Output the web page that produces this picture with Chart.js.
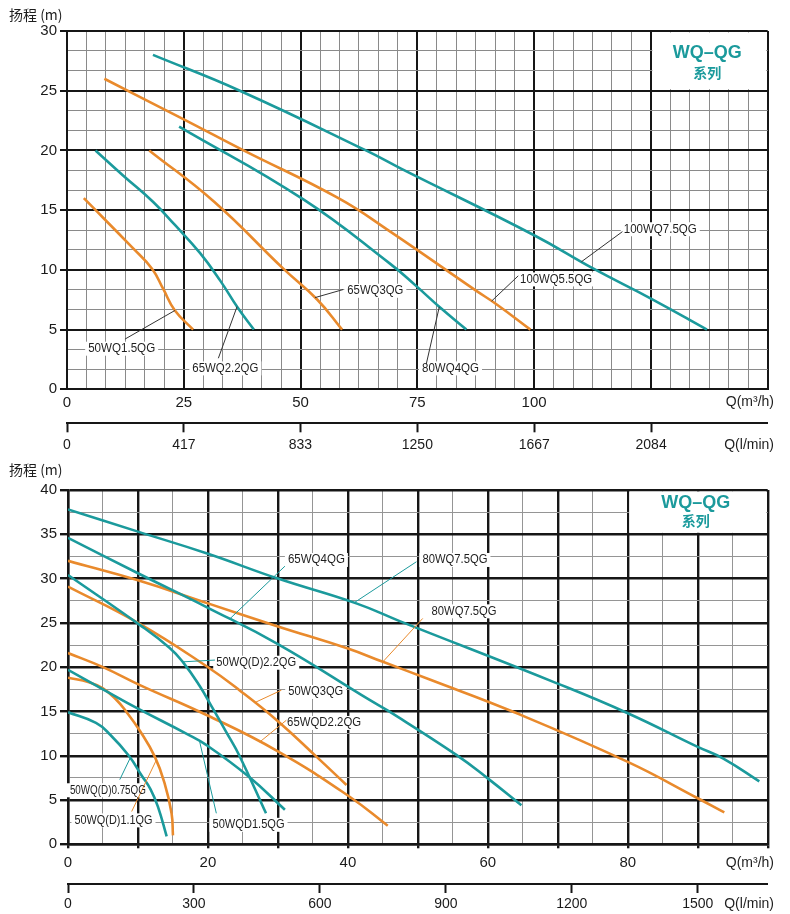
<!DOCTYPE html>
<html>
<head>
<meta charset="utf-8">
<title>WQ-QG 系列 性能曲线</title>
<script src="https://cdn.jsdelivr.net/npm/chart.js@4.4.1/dist/chart.umd.min.js"></script>
<style>
  html, body { margin: 0; padding: 0; background: #fff; }
  canvas { display: block; }
</style>
</head>
<body>
<canvas id="chartTop" width="790" height="457"></canvas>
<canvas id="chartBottom" width="790" height="457"></canvas>
<script>
const TEAL = '#1b9a9c';
const ORANGE = '#e98a2c';
const FONT = '"Liberation Sans", Arial, "Noto Sans CJK SC", sans-serif';
const CJK = '"Noto Sans CJK SC", "Liberation Sans", sans-serif';

/* upper chart: Q (m3/h) against H (m) */
const topNames = ['50WQ1.5QG', '65WQ2.2QG', '65WQ3QG', '80WQ4QG', '100WQ5.5QG', '100WQ7.5QG'];
const topColors = [ORANGE, TEAL, ORANGE, TEAL, ORANGE, TEAL];
const q50WQ15 = [[3.6, 16], [13.9, 11.9], [18.2, 10.1], [20.6, 8.4], [23.1, 6.6], [27, 5]];
const q65WQ22 = [[6.1, 20], [12, 17.9], [18.4, 15.7], [23, 13.8], [28.5, 11.4], [32.8, 9.1], [36.6, 6.8], [40, 5]];
const q65WQ3 = [[17.6, 20], [31.5, 15.7], [46.3, 10.1], [53.6, 7.5], [58.9, 5]];
const q80WQ4 = [[24, 22], [50.6, 15.9], [69.2, 10.5], [74.6, 8.7], [80, 6.8], [85.5, 5]];
const q100WQ55 = [[8, 26], [25, 22.6], [37.8, 20], [58.1, 16], [69.2, 13.2], [87.4, 8.3], [92, 7.1], [99.2, 5]];
const q100WQ75 = [[18.4, 28], [37, 25], [64, 20], [71.4, 18.5], [100, 12.9], [112.7, 10.1], [125, 7.6], [137, 5]];
const topQTicks = [0, 25, 50, 75, 100, 125];
const topHTicks = [0, 5, 10, 15, 20, 25, 30];
const topLminTicks = [0, 417, 833, 1250, 1667, 2084];

/* lower chart */
const botNames = ['80WQ7.5QG', '65WQ4QG', '80WQ7.5QG', '50WQ(D)2.2QG', '50WQ3QG', '65WQD2.2QG', '50WQD1.5QG', '50WQ(D)1.1QG', '50WQ(D)0.75QG'];
const botColors = [TEAL, TEAL, ORANGE, TEAL, ORANGE, ORANGE, TEAL, ORANGE, TEAL];
const b80WQ75t = [[0, 37.8], [10, 35.3], [20, 32.8], [30, 30], [41.2, 27.2], [47.4, 25.2], [69.8, 18.2], [80, 14.8], [90, 11], [93.6, 9.7], [98.8, 7.1]];
const b65WQ4 = [[0, 34.6], [10, 30.6], [20, 26.7], [30, 22.6], [43.1, 16.3], [45.9, 15], [55.5, 10.1], [59.9, 7.5], [64.8, 4.4]];
const b80WQ75o = [[0, 32], [10, 29.8], [20, 27.2], [30, 24.6], [40, 22.1], [45, 20.6], [51.7, 18.6], [63.8, 14.9], [80, 9.3], [90, 5.2], [93.8, 3.6]];
const b50WQD22 = [[0, 30.4], [10.2, 24.8], [14.5, 22.2], [16.4, 20.6], [18.8, 17.9], [20.5, 15.6], [22.6, 12.7], [24.5, 10], [28.3, 3.5]];
const b50WQ3 = [[0, 29.1], [10, 25], [19.8, 20.1], [24.5, 17.4], [30, 13.9], [35.5, 9.9], [39.8, 6.7]];
const b65WQD22 = [[0, 21.6], [5, 20], [10.2, 18], [19.8, 14.6], [30, 10.5], [40.2, 5.4], [45.7, 2.1]];
const b50WQD15 = [[0, 19.7], [5, 17.5], [9.8, 15.4], [16.9, 12.5], [19.8, 11.2], [25.9, 7.6], [31, 3.9]];
const b50WQD11 = [[0, 18.8], [3, 18.3], [5, 17.6], [6.8, 16.4], [8.3, 15], [10.2, 12.9], [12.4, 9.9], [13.8, 6.9], [14.8, 3.5], [15, 1]];
const b50WQD075 = [[0, 14.9], [4, 13.7], [6, 12.4], [8.7, 10], [10.5, 7.8], [11.8, 6.2], [12.85, 4.25], [14.1, 0.9]];
const botQTicks = [0, 20, 40, 60, 80];
const botHTicks = [0, 5, 10, 15, 20, 25, 30, 35, 40];
const botLminTicks = [0, 300, 600, 900, 1200, 1500];

// curve labels: text, dataset index, Q where the leader meets the curve,
// label centre [Q, H], leader start [Q, H], max text width (px)
const topNotes = [
  ['50WQ1.5QG', 0, 23.1, [11.7, 3.4], [12.4, 4.2], 67],
  ['65WQ2.2QG', 1, 36.4, [33.9, 1.75], [32.4, 2.6], 66],
  ['65WQ3QG', 2, 53.1, [66, 8.25], [59.1, 8.35], 56],
  ['80WQ4QG', 3, 79.7, [82.1, 1.75], [76.9, 2.1], 57],
  ['100WQ5.5QG', 4, 90.9, [104.7, 9.2], [96.6, 9.5], 72],
  ['100WQ7.5QG', 5, 110.1, [127, 13.4], [118.9, 13.2], 73]
];
const botNotes = [
  ['80WQ7.5QG', 0, 40.9, [55.3, 32.1], [49.8, 31.9], 65],
  ['65WQ4QG', 1, 23.1, [35.5, 32.1], [31, 31.4], 57],
  ['80WQ7.5QG', 2, 45, [56.6, 26.3], [50.7, 25.5], 65],
  ['50WQ(D)2.2QG', 3, 16.4, [26.9, 20.5], [21, 20.8], 80],
  ['50WQ3QG', 4, 26.7, [35.4, 17.2], [30.5, 17.4], 55],
  ['65WQD2.2QG', 5, 27.4, [36.6, 13.7], [31.2, 14], 74],
  ['50WQD1.5QG', 6, 18.8, [25.8, 2.2], [21.2, 3.5], 72],
  ['50WQ(D)1.1QG', 7, 12.6, [6.5, 2.7], [9.1, 3.7], 78],
  ['50WQ(D)0.75QG', 8, 8.9, [5.7, 6.1], [7.4, 7.3], 76]
];

const steps = (max, step) => Array.from({ length: Math.round(max / step) + 1 }, (_, i) => i * step);
const isMajor = (v, step) => Math.abs(v / step - Math.round(v / step)) < 1e-6;

function hAt(pts, q) {
  for (let i = 0; i < pts.length - 1; i++) {
    const [q0, h0] = pts[i], [q1, h1] = pts[i + 1];
    if (q >= q0 && q <= q1) return h0 + (h1 - h0) * (q - q0) / (q1 - q0);
  }
  return pts[pts.length - 1][1];
}

function notesPlugin(c) {
  return {
    id: 'notes',
    beforeDatasetsDraw(chart) {
      const { ctx, scales: { x, y } } = chart;
      ctx.save();
      ctx.fillStyle = '#fff';
      const bx0 = x.getPixelForValue(c.box[0]), bx1 = x.getPixelForValue(c.box[1]);
      const by0 = y.getPixelForValue(c.box[3]), by1 = y.getPixelForValue(c.box[2]);
      ctx.fillRect(bx0 + 1.5, by0 + 1.5, bx1 - bx0 - 3, by1 - by0 - 3);
      ctx.font = c.noteFont;
      c.notes.forEach(([text, , , [cq, ch], , maxW]) => {
        const w = Math.min(ctx.measureText(text).width, maxW);
        ctx.fillRect(x.getPixelForValue(cq) - w / 2 - 3, y.getPixelForValue(ch) - 7, w + 6, 14);
      });
      ctx.restore();
    },
    afterDatasetsDraw(chart) {
      const { ctx, scales: { x, y } } = chart;
      ctx.save();
      ctx.lineWidth = 1;
      c.notes.forEach(([, si, aq, , [sq, sh]]) => {
        ctx.strokeStyle = c.leaderColor || c.colors[si];
        ctx.beginPath();
        ctx.moveTo(x.getPixelForValue(sq), y.getPixelForValue(sh));
        ctx.lineTo(x.getPixelForValue(aq), y.getPixelForValue(hAt(c.series[si], aq)));
        ctx.stroke();
      });
      ctx.fillStyle = '#1e1e1e';
      ctx.font = c.noteFont;
      ctx.textAlign = 'center';
      ctx.textBaseline = 'middle';
      c.notes.forEach(([text, , , [cq, ch], , maxW]) => {
        ctx.fillText(text, x.getPixelForValue(cq), y.getPixelForValue(ch), maxW);
      });
      ctx.restore();
    },
    afterDraw(chart) {
      const { ctx, chartArea: a, scales: { x, y } } = chart;
      ctx.save();
      ctx.textBaseline = 'middle';
      ctx.fillStyle = '#1e1e1e';
      ctx.font = '14px ' + CJK;
      ctx.textAlign = 'left';
      ctx.fillText('扬程 (m)', 9, a.top + c.titleDy);
      ctx.font = '14px ' + FONT;
      ctx.textAlign = 'right';
      ctx.fillText('Q(m³/h)', 774, a.bottom + c.qUnitDy);
      ctx.fillText('Q(l/min)', 774, a.bottom + c.lUnitDy);
      // series name in the framed corner
      const cx = (x.getPixelForValue(c.box[0]) + x.getPixelForValue(c.box[1])) / 2;
      const cy = (y.getPixelForValue(c.box[2]) + y.getPixelForValue(c.box[3])) / 2;
      ctx.textAlign = 'center';
      ctx.fillStyle = TEAL;
      ctx.font = 'bold 18px ' + FONT;
      ctx.fillText('WQ–QG', cx - 2, cy + c.boxDy[0]);
      ctx.font = 'bold 14px ' + CJK;
      ctx.fillText('系列', cx - 2, cy + c.boxDy[1]);
      ctx.restore();
    }
  };
}

function makeChart(id, c) {
  const gridColor = step => ctx => (!ctx.tick || isMajor(ctx.tick.value, step)) ? '#161616' : c.minorColor;
  const gridWidth = step => ctx => (!ctx.tick || isMajor(ctx.tick.value, step)) ? c.majorW : 1;
  const tickColor = step => ctx => (!ctx.tick || isMajor(ctx.tick.value, step)) ? '#161616' : 'rgba(0,0,0,0)';
  return new Chart(document.getElementById(id), {
    type: 'line',
    data: {
      datasets: c.series.map((s, i) => ({
        label: c.names[i],
        data: s.map(([q, h]) => ({ x: q, y: h })),
        borderColor: c.colors[i],
        borderWidth: 2.6,
        pointRadius: 0,
        fill: false,
        tension: 0.45
      }))
    },
    options: {
      responsive: false,
      animation: false,
      devicePixelRatio: 1,
      layout: { padding: { top: c.padTop, right: 22.3, bottom: 0, left: 0 } },
      plugins: { legend: { display: false }, tooltip: { enabled: false } },
      scales: {
        x: {
          type: 'linear', min: 0, max: c.qMax, weight: 0,
          afterBuildTicks: s => { s.ticks = steps(c.qMax, c.qMinor).map(v => ({ value: v })); },
          afterFit: s => { s.height = c.xHeight; },
          ticks: {
            autoSkip: false, maxRotation: 0, padding: c.xPad, color: '#1a1a1a',
            font: { family: FONT, size: 15 },
            callback: v => c.qLabels.includes(v) ? String(v) : ''
          },
          grid: {
            color: gridColor(c.qMajor), lineWidth: gridWidth(c.qMajor),
            drawTicks: c.xTickLen > 0, tickLength: c.xTickLen,
            tickColor: tickColor(c.qMajor), tickWidth: c.majorW
          },
          border: { color: '#161616', width: c.majorW }
        },
        x2: {
          type: 'linear', axis: 'x', position: 'bottom', min: 0, max: c.lMax, weight: 1,
          afterBuildTicks: s => { s.ticks = c.lLabels.map(v => ({ value: v })); },
          afterFit: s => { s.height = c.x2Height; },
          ticks: {
            autoSkip: false, maxRotation: 0, padding: c.x2Pad, color: '#1a1a1a',
            font: { family: FONT, size: 14 },
            callback: v => String(v)
          },
          grid: { drawOnChartArea: false, tickLength: 9, tickColor: '#161616', tickWidth: 2 },
          border: { color: '#161616', width: 2 }
        },
        y: {
          type: 'linear', min: 0, max: c.hMax,
          afterBuildTicks: s => { s.ticks = steps(c.hMax, c.hMinor).map(v => ({ value: v })); },
          afterFit: s => { s.width = c.yWidth; },
          ticks: {
            autoSkip: false, padding: 3, color: '#1a1a1a',
            font: { family: FONT, size: 15 },
            callback: v => c.hLabels.includes(v) ? String(v) : ''
          },
          grid: {
            color: gridColor(c.hMajor), lineWidth: gridWidth(c.hMajor),
            tickLength: c.yTickLen, tickColor: tickColor(c.hMajor), tickWidth: c.majorW
          },
          border: { color: '#161616', width: c.majorW }
        }
      }
    },
    plugins: [notesPlugin(c)]
  });
}

makeChart('chartTop', {
  names: topNames, colors: topColors,
  series: [q50WQ15, q65WQ22, q65WQ3, q80WQ4, q100WQ55, q100WQ75],
  notes: topNotes, leaderColor: '#333', noteFont: '12px ' + FONT,
  qMax: 150, qMajor: 25, qMinor: 25 / 6, qLabels: topQTicks,
  hMax: 30, hMajor: 5, hMinor: 5 / 3, hLabels: topHTicks,
  lMax: 2500, lLabels: topLminTicks,
  box: [125, 150, 25, 30], boxDy: [-7.5, 11.5],
  padTop: 31, yWidth: 67, xHeight: 34, x2Height: 33.7,
  xPad: 4.4, x2Pad: 4.4, xTickLen: 0, yTickLen: 7,
  majorW: 2, minorColor: '#8a8a8a',
  titleDy: -16, qUnitDy: 13, lUnitDy: 56
});

makeChart('chartBottom', {
  names: botNames, colors: botColors,
  series: [b80WQ75t, b65WQ4, b80WQ75o, b50WQD22, b50WQ3, b65WQD22, b50WQD15, b50WQD11, b50WQD075],
  notes: botNotes, noteFont: '12.5px ' + FONT,
  qMax: 100, qMajor: 10, qMinor: 5, qLabels: botQTicks,
  hMax: 40, hMajor: 5, hMinor: 2.5, hLabels: botHTicks,
  lMax: 100000 / 60, lLabels: botLminTicks,
  box: [80, 100, 35, 40], boxDy: [-9, 9],
  padTop: 33, yWidth: 68, xHeight: 39.7, x2Height: 30,
  xPad: 5.4, x2Pad: 2.6, xTickLen: 4, yTickLen: 8,
  majorW: 2.4, minorColor: '#959595',
  titleDy: -20, qUnitDy: 18.5, lUnitDy: 60
});
</script>
</body>
</html>
